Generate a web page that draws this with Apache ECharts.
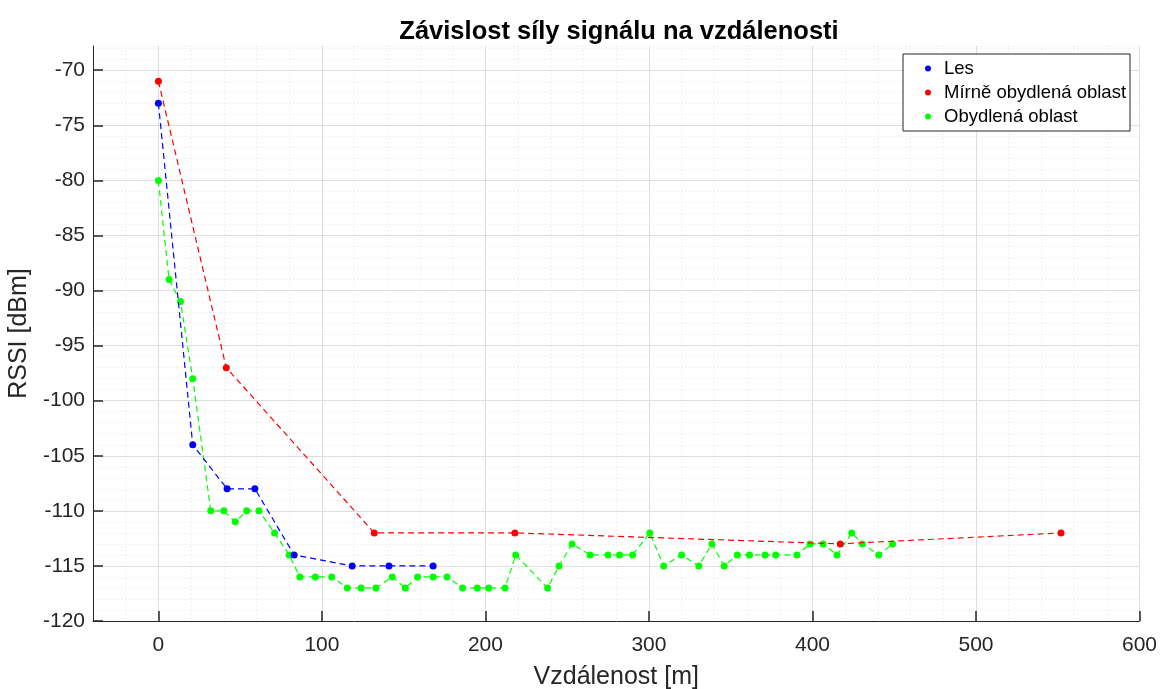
<!DOCTYPE html>
<html>
<head>
<meta charset="utf-8">
<script src="https://cdn.jsdelivr.net/npm/echarts@6/dist/echarts.min.js"></script>
<style>
  html, body { margin: 0; padding: 0; background: #fff; }
  #chart { width: 1161px; height: 689px; }
</style>
</head>
<body>
<div id="chart"></div>
<script>
// data
const seriesNames = ["Les", "Mírně obydlená oblast", "Obydlená oblast"];

const lesX = [0, 21, 42, 59, 83, 118.5, 141, 168];
const lesY = [-73, -104, -108, -108, -114, -115, -115, -115];

const mirneX = [0, 41.5, 132, 218, 417, 552];
const mirneY = [-71, -97, -112, -112, -113, -112];

const obydX = [0, 6.5, 13.5, 21, 32, 40, 47, 54, 61.5, 71, 80, 86.5, 96, 106, 115.5, 124, 133,
  143, 151, 158.5, 168, 176.5, 186, 195, 202, 212, 218.5, 238, 245, 253, 264, 275, 282, 290,
  300.5, 309, 320, 330.5, 338.5, 346, 354, 361.5, 371, 377.5, 390.5, 398.5, 406.5, 415, 424,
  430.5, 440.5, 449];
const obydY = [-80, -89, -91, -98, -110, -110, -111, -110, -110, -112, -114, -116, -116, -116, -117, -117, -117,
  -116, -117, -116, -116, -116, -117, -117, -117, -117, -114, -117, -115, -113, -114, -114, -114, -114,
  -112, -115, -114, -115, -113, -115, -114, -114, -114, -114, -114, -113, -113, -114, -112,
  -113, -114, -113];

const xTicks = [0, 100, 200, 300, 400, 500, 600];
const yTicks = [-120, -115, -110, -105, -100, -95, -90, -85, -80, -75, -70];

const colors = ["#0000ff", "#ff0000", "#00ff00"];

const zip = (xs, ys) => xs.map((x, i) => [x, ys[i]]);
const allData = [zip(lesX, lesY), zip(mirneX, mirneY), zip(obydX, obydY)];

const txt = "#262626";
const font = "'Liberation Sans', Arial, Helvetica, sans-serif";
const major = "#dedede";
const minor = "#e4e4e4";
const none = "rgba(0,0,0,0)";

// x grid: -40..600 step 20, major every 100 (index 2, 7, 12...)
// y grid: -120..-67.8 step 1, major every 5 (index 0, 5, 10...)
const xMajorCycle = [none, none, major, none, none];
const yMajorCycle = [major, none, none, none, none];

const gridAxisX = (cfg) => Object.assign({
  type: "value", min: -40, max: 600, interval: 20, position: "bottom",
  axisLine: { show: false }, axisTick: { show: false }, axisLabel: { show: false }
}, cfg);
const gridAxisY = (cfg) => Object.assign({
  type: "value", min: -120, max: -67.8, interval: 1, position: "left",
  axisLine: { show: false }, axisTick: { show: false }, axisLabel: { show: false }
}, cfg);

const chart = echarts.init(document.getElementById("chart"));

const option = {
  backgroundColor: "#fff",
  animation: false,
  color: colors,
  textStyle: { fontFamily: font },
  title: {
    text: "Závislost síly signálu na vzdálenosti",
    left: 614,
    textAlign: "center",
    top: 14,
    textStyle: { fontSize: 25.5, fontWeight: "bold", color: "#000", fontFamily: font }
  },
  legend: {
    orient: "vertical",
    left: 903,
    top: 54,
    data: seriesNames,
    icon: "circle",
    itemWidth: 6,
    itemHeight: 6,
    itemGap: 5,
    padding: [5, 4, 5, 22],
    borderColor: txt,
    borderWidth: 1,
    backgroundColor: "#fff",
    textStyle: { fontSize: 18.5, color: "#000", padding: [0, 0, 0, 8], fontFamily: font }
  },
  grid: { left: 93, right: 21.5, top: 46, bottom: 68, containLabel: false, outerBoundsMode: "none" },
  xAxis: [
    {
      type: "value", min: -40, max: 600, interval: 20,
      name: "Vzdálenost [m]",
      nameLocation: "middle",
      nameGap: 44,
      nameTextStyle: { fontSize: 25, color: txt, fontFamily: font },
      axisLine: { show: true, onZero: false, lineStyle: { color: txt, width: 1 } },
      axisTick: { show: true, inside: true, length: 10, customValues: xTicks, lineStyle: { color: txt, width: 1.5 } },
      axisLabel: { fontSize: 21, color: txt, margin: 14, fontFamily: font, customValues: xTicks },
      splitLine: { show: false },
      z: 5
    },
    gridAxisX({ splitLine: { show: true, lineStyle: { color: minor, type: [1, 3], width: 1 } }, z: 0 }),
    gridAxisX({ splitLine: { show: true, lineStyle: { color: xMajorCycle, width: 1 } }, z: 1 })
  ],
  yAxis: [
    {
      type: "value", min: -120, max: -67.8, interval: 1,
      name: "RSSI [dBm]",
      nameLocation: "middle",
      nameGap: 50,
      nameTextStyle: { fontSize: 25, color: txt, fontFamily: font },
      axisLine: { show: true, onZero: false, lineStyle: { color: txt, width: 1 } },
      axisTick: { show: true, inside: true, length: 10, customValues: yTicks, lineStyle: { color: txt, width: 1.5 } },
      axisLabel: { fontSize: 21, color: txt, margin: 8, fontFamily: font, customValues: yTicks },
      splitLine: { show: false },
      z: 5
    },
    gridAxisY({ splitLine: { show: true, lineStyle: { color: minor, type: [1, 3], width: 1 } }, z: 0 }),
    gridAxisY({ splitLine: { show: true, lineStyle: { color: yMajorCycle, width: 1 } }, z: 1 })
  ],
  series: seriesNames.map((name, k) => ({
    name: name,
    type: "line",
    data: allData[k],
    symbol: "circle",
    symbolSize: 7,
    showSymbol: true,
    lineStyle: { type: [6, 4], width: 1.2, color: colors[k] },
    itemStyle: { color: colors[k] },
    z: 3 + (2 - k)
  }))
};

chart.setOption(option);
</script>
</body>
</html>
